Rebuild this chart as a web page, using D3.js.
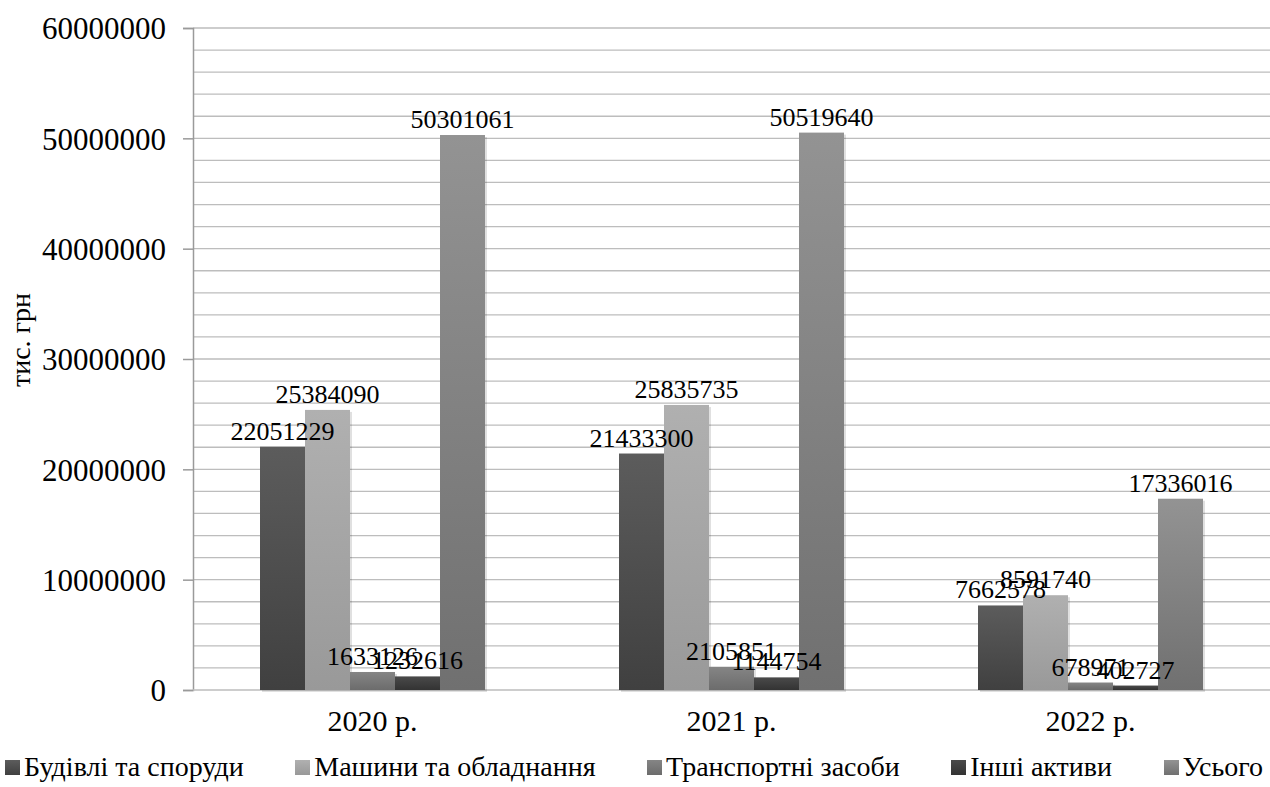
<!DOCTYPE html>
<html><head><meta charset="utf-8">
<script src="https://cdn.jsdelivr.net/npm/d3@7"></script>
</head><body><svg id="c" width="1270" height="787"></svg><div id="legend"></div>
<script>
const categories = ["2020 р.", "2021 р.", "2022 р."];
const seriesNames = ["Будівлі та споруди", "Машини та обладнання", "Транспортні засоби", "Інші активи", "Усього"];
const buildings = [22051229, 21433300, 7662578];
const machines = [25384090, 25835735, 8591740];
const transport = [1633126, 2105851, 678971];
const other = [1232616, 1144754, 402727];
const total = [50301061, 50519640, 17336016];
const yTicks = [0, 10000000, 20000000, 30000000, 40000000, 50000000, 60000000];
const yTitle = "тис. грн";

const FONT = "serif";
const series = [buildings, machines, transport, other, total];
const colorsTop = ["#5c5c5c", "#b0b0b0", "#858585", "#4a4a4a", "#939393"];
const colorsBot = ["#404040", "#999999", "#6c6c6c", "#333333", "#707070"];

d3.select("body").style("margin", "0").style("position", "relative").style("width", "1270px").style("height", "787px").style("overflow", "hidden").style("font-family", FONT);
const svg = d3.select("#c").style("position", "absolute").style("left", "0").style("top", "0").style("font-family", FONT);
const ff = sel => sel.style("font-family", FONT);

const m = {l: 193, r: 1270, t: 28, b: 690};
const x = d3.scaleBand().domain(categories).range([m.l, m.r]);
const inner = d3.scaleBand().domain(d3.range(seriesNames.length)).range([0, 225]);
const y = d3.scaleLinear().domain([0, 60000000]).range([m.b, m.t]);

const defs = svg.append("defs");
seriesNames.forEach((s, i) => {
  const g = defs.append("linearGradient").attr("id", "g" + i).attr("x1", 0).attr("x2", 0).attr("y1", 0).attr("y2", 1);
  g.append("stop").attr("offset", "0%").attr("stop-color", colorsTop[i]);
  g.append("stop").attr("offset", "100%").attr("stop-color", colorsBot[i]);
});

// grid
const minor = d3.range(2000000, 60000001, 2000000);
svg.append("g").selectAll("line").data(minor).join("line")
  .attr("x1", m.l).attr("x2", m.r).attr("y1", d => y(d)).attr("y2", d => y(d))
  .attr("stroke", "#bdbdbd").attr("stroke-width", 1.3);

// axes
const yAxis = d3.axisLeft(y).tickValues(yTicks).tickFormat(d3.format("d")).tickSize(10).tickPadding(17);
const ya = svg.append("g").attr("transform", `translate(${m.l},0)`).call(yAxis);
ya.attr("font-family", FONT).attr("font-size", 31);
ya.select(".domain").attr("stroke", "#9a9a9a").attr("stroke-width", 1.5);
ya.selectAll(".tick line").attr("stroke", "#9a9a9a").attr("stroke-width", 1.5);
ff(ya.selectAll("text")).style("font-size", "31px").attr("fill", "#000").attr("dy", "0.35em");

svg.append("line").attr("x1", m.l).attr("x2", m.r).attr("y1", y(0)).attr("y2", y(0)).attr("stroke", "#bdbdbd").attr("stroke-width", 1.5);

const xAxis = d3.axisBottom(x).tickSize(0).tickPadding(20);
const xa = svg.append("g").attr("transform", `translate(0,${m.b})`).call(xAxis);
xa.attr("font-family", FONT).attr("font-size", 30);
xa.select(".domain").remove();
ff(xa.selectAll("text")).style("font-size", "30px").attr("fill", "#000");

// bars with soft shadow
const groups = svg.append("g").selectAll("g").data(categories).join("g")
  .attr("transform", d => `translate(${x(d) + (x.bandwidth() - 225) / 2},0)`);
series.forEach((vals, si) => {
  groups.append("rect")
    .attr("x", inner(si) + 2).attr("width", inner.bandwidth())
    .attr("y", (d, ci) => y(vals[ci]) + 2).attr("height", (d, ci) => y(0) - y(vals[ci]))
    .attr("fill", "#000").attr("opacity", 0.12);
});
series.forEach((vals, si) => {
  groups.append("rect")
    .attr("x", inner(si)).attr("width", inner.bandwidth())
    .attr("y", (d, ci) => y(vals[ci])).attr("height", (d, ci) => y(0) - y(vals[ci]))
    .attr("fill", `url(#g${si})`);
});
series.forEach((vals, si) => {
  ff(groups.append("text"))
    .attr("x", inner(si) + inner.bandwidth() / 2)
    .attr("y", (d, ci) => y(vals[ci]) - 7)
    .attr("text-anchor", "middle").style("font-size", "26px")
    .text((d, ci) => vals[ci]);
});

// y title
ff(svg.append("text")).attr("transform", "translate(30,340) rotate(-90)").attr("text-anchor", "middle")
  .style("font-size", "28px").text(yTitle);

// legend (HTML, laid out by flexbox)
const legend = d3.select("#legend").style("position", "absolute").style("left", "5px").style("top", "752px")
  .style("width", "1258px").style("height", "30px").style("display", "flex")
  .style("justify-content", "space-between").style("align-items", "center")
  .style("font-size", "28px").style("color", "#000").style("white-space", "nowrap");
ff(legend);
const items = legend.selectAll("div").data(seriesNames).join("div").style("display", "flex").style("align-items", "center");
items.append("span").style("display", "inline-block").style("width", "15px").style("height", "15px").style("margin-right", "4px")
  .style("background", (d, i) => `linear-gradient(${colorsTop[i]}, ${colorsBot[i]})`);
ff(items.append("span")).text(d => d);
</script></body></html>
